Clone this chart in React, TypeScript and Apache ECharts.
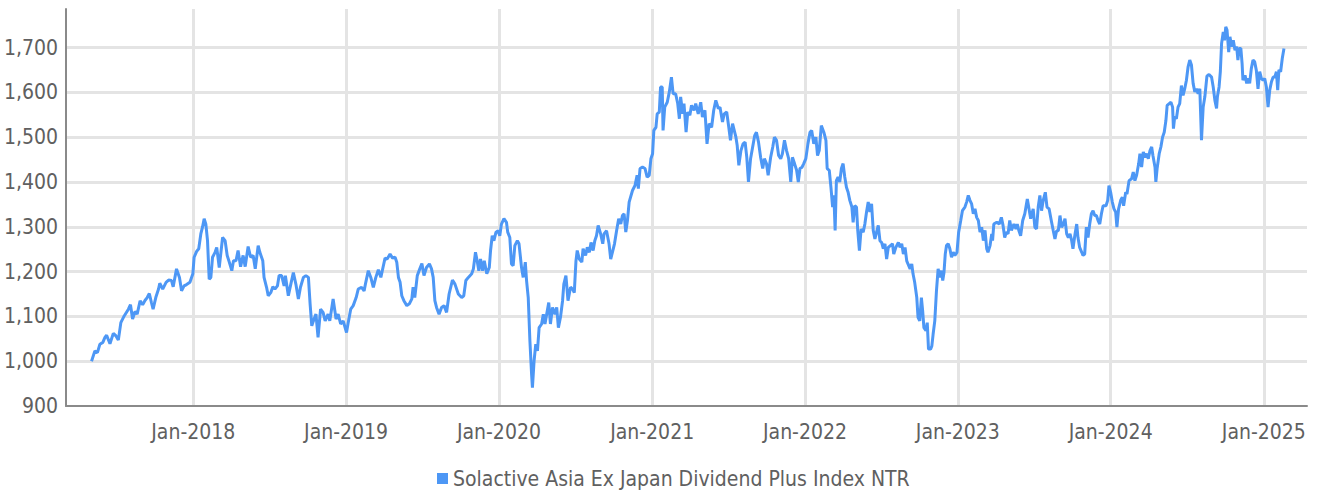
import React, { useEffect, useRef } from "react";
import * as echarts from "echarts";

const SERIES_NAME = "Solactive Asia Ex Japan Dividend Plus Index NTR";

// Dates are stored as day offsets from 1 Jan 2018.
const BASE_YEAR = 2018;
const X_START_DAY = -304; // early Mar 2017
const X_END_DAY = 2660; // mid Apr 2025

const Y_MIN = 900;
const Y_MAX = 1786;
const Y_STEP = 100;

const MONTHS = ["Jan", "Feb", "Mar", "Apr", "May", "Jun", "Jul", "Aug", "Sep", "Oct", "Nov", "Dec"];

const days2017 = [-243, -235, -229, -223, -216, -211, -207, -199, -191, -185, -179, -173, -165, -155, -150, -145, -139, -134, -127, -121, -115, -110, -105, -100, -96, -89, -83, -80, -73, -65, -59, -52, -48, -40, -33, -28, -22, -16, -8, -1];
const vals2017 = [1000, 1023, 1019, 1038, 1042, 1053, 1058, 1039, 1062, 1057, 1047, 1086, 1101, 1116, 1126, 1094, 1111, 1105, 1135, 1126, 1136, 1142, 1151, 1131, 1116, 1144, 1161, 1174, 1161, 1176, 1181, 1180, 1166, 1206, 1187, 1157, 1168, 1171, 1176, 1195];

const days2018 = [2, 8, 13, 18, 22, 26, 30, 34, 38, 42, 46, 52, 56, 62, 70, 76, 81, 86, 92, 96, 102, 107, 113, 119, 124, 131, 137, 143, 148, 155, 159, 166, 169, 175, 179, 185, 190, 195, 201, 205, 211, 217, 220, 227, 233, 239, 245, 251, 256, 263, 269, 275, 279, 283, 287, 293, 298, 304, 310, 315, 322, 326, 334, 341, 346, 352, 358];
const vals2018 = [1232, 1245, 1251, 1284, 1299, 1318, 1306, 1269, 1183, 1187, 1232, 1243, 1254, 1209, 1276, 1269, 1236, 1221, 1202, 1224, 1224, 1247, 1211, 1236, 1211, 1256, 1232, 1236, 1206, 1258, 1243, 1224, 1187, 1165, 1146, 1153, 1166, 1161, 1168, 1191, 1191, 1168, 1191, 1146, 1172, 1198, 1172, 1139, 1165, 1187, 1191, 1187, 1128, 1079, 1090, 1105, 1053, 1116, 1109, 1090, 1105, 1090, 1139, 1094, 1105, 1083, 1090];

const days2019 = [366, 370, 376, 382, 389, 394, 402, 408, 412, 418, 424, 430, 436, 442, 448, 454, 458, 463, 470, 476, 482, 486, 490, 494, 498, 503, 510, 516, 522, 525, 529, 535, 541, 546, 551, 557, 564, 569, 573, 577, 581, 587, 593, 599, 605, 611, 619, 625, 633, 641, 646, 651, 657, 665, 669, 674, 678, 682, 686, 691, 695, 701, 707, 710, 714, 718, 723];
const vals2019 = [1064, 1086, 1116, 1124, 1142, 1161, 1165, 1157, 1176, 1202, 1187, 1165, 1187, 1204, 1187, 1213, 1230, 1228, 1239, 1230, 1232, 1221, 1187, 1176, 1146, 1135, 1124, 1128, 1139, 1165, 1142, 1191, 1206, 1218, 1191, 1209, 1217, 1206, 1187, 1135, 1120, 1105, 1120, 1124, 1109, 1150, 1181, 1172, 1150, 1142, 1146, 1180, 1187, 1195, 1206, 1243, 1224, 1202, 1228, 1202, 1224, 1195, 1209, 1247, 1280, 1269, 1288];

const days2020 = [728, 732, 736, 742, 748, 751, 756, 760, 764, 768, 774, 778, 784, 788, 793, 796, 800, 804, 808, 810, 814, 818, 822, 826, 832, 836, 840, 844, 849, 853, 858, 864, 868, 872, 877, 882, 885, 890, 895, 901, 906, 910, 914, 917, 922, 928, 931, 937, 941, 946, 950, 955, 959, 963, 967, 973, 978, 981, 987, 993, 997, 1001, 1006, 1011, 1016, 1021, 1025, 1029, 1033, 1037, 1041, 1049, 1055, 1060, 1063, 1067, 1073, 1079, 1084, 1089];
const vals2020 = [1291, 1280, 1306, 1318, 1310, 1288, 1276, 1217, 1213, 1258, 1269, 1262, 1209, 1187, 1221, 1180, 1142, 1045, 971, 941, 1001, 1038, 1023, 1075, 1083, 1105, 1083, 1105, 1131, 1083, 1120, 1105, 1120, 1075, 1098, 1135, 1172, 1191, 1135, 1165, 1161, 1153, 1224, 1247, 1228, 1221, 1251, 1236, 1254, 1243, 1265, 1247, 1269, 1280, 1303, 1284, 1262, 1284, 1291, 1262, 1228, 1243, 1262, 1291, 1318, 1306, 1325, 1329, 1288, 1314, 1355, 1381, 1392, 1415, 1385, 1430, 1433, 1430, 1411, 1415];

const days2021 = [1093, 1097, 1100, 1105, 1108, 1113, 1116, 1120, 1122, 1126, 1132, 1137, 1142, 1146, 1152, 1157, 1161, 1164, 1169, 1172, 1177, 1181, 1186, 1190, 1196, 1200, 1206, 1212, 1216, 1222, 1227, 1232, 1238, 1243, 1248, 1254, 1258, 1264, 1268, 1274, 1279, 1283, 1288, 1292, 1296, 1299, 1303, 1308, 1313, 1318, 1322, 1326, 1331, 1336, 1341, 1345, 1350, 1355, 1360, 1364, 1369, 1373, 1379, 1384, 1388, 1393, 1398, 1403, 1407, 1412, 1417, 1422, 1427, 1431, 1436, 1441, 1445, 1449, 1454];
const vals2021 = [1452, 1463, 1515, 1522, 1552, 1556, 1612, 1612, 1515, 1567, 1578, 1601, 1634, 1597, 1597, 1575, 1541, 1590, 1552, 1575, 1511, 1556, 1549, 1571, 1560, 1575, 1552, 1578, 1545, 1560, 1485, 1530, 1522, 1560, 1582, 1564, 1567, 1534, 1552, 1556, 1522, 1493, 1530, 1515, 1500, 1482, 1437, 1470, 1485, 1489, 1455, 1400, 1452, 1478, 1504, 1511, 1489, 1455, 1430, 1452, 1441, 1415, 1455, 1478, 1500, 1493, 1459, 1452, 1463, 1493, 1470, 1452, 1400, 1455, 1441, 1426, 1400, 1430, 1433];

const days2022 = [1458, 1463, 1468, 1473, 1477, 1482, 1487, 1491, 1495, 1500, 1506, 1511, 1514, 1519, 1523, 1527, 1530, 1533, 1536, 1540, 1544, 1548, 1552, 1556, 1560, 1564, 1568, 1573, 1576, 1580, 1584, 1587, 1591, 1595, 1600, 1604, 1608, 1612, 1616, 1620, 1624, 1628, 1632, 1636, 1640, 1644, 1648, 1652, 1656, 1660, 1665, 1670, 1673, 1678, 1684, 1688, 1692, 1696, 1700, 1704, 1707, 1712, 1716, 1719, 1723, 1728, 1731, 1735, 1739, 1742, 1745, 1750, 1753, 1756, 1761, 1764, 1767, 1771, 1775, 1779, 1783, 1787, 1790, 1793, 1796, 1799, 1803, 1807, 1811, 1815, 1819, 1824];
const vals2022 = [1441, 1452, 1485, 1511, 1515, 1485, 1500, 1459, 1470, 1526, 1511, 1493, 1430, 1426, 1388, 1344, 1370, 1292, 1403, 1411, 1400, 1430, 1441, 1411, 1388, 1377, 1359, 1344, 1310, 1347, 1344, 1292, 1247, 1295, 1288, 1306, 1333, 1355, 1333, 1351, 1292, 1273, 1288, 1303, 1269, 1265, 1251, 1262, 1228, 1254, 1258, 1262, 1239, 1254, 1265, 1254, 1262, 1239, 1254, 1224, 1217, 1206, 1217, 1195, 1176, 1142, 1098, 1090, 1142, 1113, 1075, 1068, 1086, 1027, 1027, 1034, 1060, 1090, 1157, 1206, 1187, 1202, 1180, 1198, 1239, 1258, 1262, 1251, 1232, 1243, 1236, 1243];

const days2023 = [1828, 1833, 1837, 1843, 1847, 1851, 1855, 1859, 1863, 1867, 1871, 1875, 1879, 1883, 1887, 1891, 1895, 1898, 1903, 1907, 1909, 1912, 1919, 1925, 1930, 1934, 1938, 1942, 1946, 1950, 1954, 1960, 1965, 1968, 1972, 1976, 1981, 1986, 1992, 1996, 2000, 2006, 2010, 2014, 2018, 2022, 2026, 2030, 2035, 2039, 2044, 2050, 2054, 2058, 2062, 2066, 2070, 2074, 2078, 2082, 2086, 2090, 2094, 2098, 2101, 2106, 2110, 2113, 2117, 2122, 2125, 2129, 2133, 2137, 2141, 2145, 2149, 2153, 2157, 2161, 2165, 2169, 2173, 2180, 2184];
const vals2023 = [1288, 1314, 1336, 1344, 1355, 1370, 1359, 1351, 1329, 1340, 1321, 1314, 1288, 1299, 1269, 1292, 1251, 1243, 1258, 1284, 1269, 1306, 1310, 1306, 1321, 1303, 1276, 1288, 1284, 1314, 1292, 1306, 1295, 1306, 1291, 1280, 1314, 1329, 1362, 1340, 1318, 1340, 1299, 1295, 1344, 1370, 1336, 1359, 1377, 1344, 1340, 1310, 1291, 1273, 1291, 1291, 1325, 1299, 1306, 1318, 1284, 1276, 1284, 1269, 1251, 1284, 1306, 1276, 1254, 1243, 1236, 1239, 1299, 1276, 1306, 1329, 1336, 1325, 1325, 1314, 1306, 1329, 1347, 1347, 1359];

const days2024 = [2187, 2191, 2195, 2199, 2203, 2206, 2210, 2215, 2219, 2222, 2227, 2230, 2235, 2241, 2245, 2249, 2253, 2258, 2261, 2265, 2269, 2273, 2277, 2281, 2285, 2289, 2292, 2297, 2299, 2302, 2307, 2311, 2315, 2319, 2323, 2326, 2331, 2335, 2339, 2341, 2344, 2348, 2352, 2356, 2360, 2364, 2368, 2372, 2376, 2380, 2384, 2388, 2392, 2396, 2400, 2404, 2408, 2412, 2416, 2421, 2426, 2432, 2436, 2440, 2444, 2446, 2450, 2453, 2456, 2460, 2463, 2466, 2469, 2473, 2476, 2480, 2484, 2488, 2492, 2495, 2498, 2502, 2505, 2507, 2512, 2516, 2519, 2523, 2527, 2531, 2535, 2539, 2543, 2547, 2551, 2555];
const vals2024 = [1392, 1377, 1355, 1340, 1333, 1299, 1340, 1359, 1366, 1347, 1377, 1373, 1403, 1407, 1422, 1403, 1415, 1441, 1463, 1433, 1467, 1455, 1463, 1452, 1470, 1478, 1459, 1433, 1400, 1430, 1463, 1478, 1500, 1511, 1537, 1571, 1575, 1578, 1567, 1519, 1545, 1541, 1567, 1575, 1615, 1593, 1608, 1627, 1657, 1672, 1661, 1620, 1601, 1608, 1597, 1608, 1493, 1567, 1590, 1636, 1640, 1634, 1612, 1582, 1564, 1590, 1612, 1646, 1709, 1735, 1716, 1746, 1739, 1690, 1724, 1702, 1716, 1694, 1702, 1672, 1698, 1698, 1664, 1627, 1638, 1620, 1631, 1620, 1653, 1672, 1668, 1649, 1608, 1646, 1631, 1627];

const days2025 = [2559, 2563, 2567, 2571, 2575, 2579, 2583, 2587, 2590, 2593, 2597, 2601, 2605];
const vals2025 = [1631, 1612, 1567, 1605, 1623, 1634, 1634, 1646, 1605, 1650, 1646, 1676, 1698];

const dayOffsets = [...days2017, ...days2018, ...days2019, ...days2020, ...days2021, ...days2022, ...days2023, ...days2024, ...days2025];
const indexValues = [...vals2017, ...vals2018, ...vals2019, ...vals2020, ...vals2021, ...vals2022, ...vals2023, ...vals2024, ...vals2025];

const FONT = "'DejaVu Sans Condensed', 'DejaVu Sans', sans-serif";
const FONT_SIZE = 21;
const TEXT_COLOR = "#606060";
const LINE_COLOR = "#4d97f5";
const GRID_COLOR = "#e4e4e4";
const AXIS_COLOR = "#8a8a8a";

const DAY_MS = 86400000;
const baseTime = new Date(BASE_YEAR, 0, 1).getTime();
const toTime = (d: number) => baseTime + d * DAY_MS;

export default function App() {
  const ref = useRef<HTMLDivElement>(null);

  useEffect(() => {
    document.body.style.margin = "0";
    if (!ref.current) return;
    const chart = echarts.init(ref.current, null, { renderer: "svg" });
    const data = dayOffsets.map((d, i) => [toTime(d), indexValues[i]]);

    chart.setOption({
      animation: false,
      backgroundColor: "#ffffff",
      textStyle: { fontFamily: FONT },
      grid: {
        left: 66,
        right: 10,
        top: 9,
        bottom: 87,
        containLabel: false,
        outerBoundsMode: "none",
      },
      legend: {
        data: [SERIES_NAME],
        left: 432,
        top: 463,
        padding: 5,
        icon: "rect",
        itemWidth: 11,
        itemHeight: 11,
        itemGap: 6,
        textStyle: { fontSize: FONT_SIZE, color: TEXT_COLOR, fontFamily: FONT },
      },
      xAxis: {
        type: "time",
        min: toTime(X_START_DAY),
        max: toTime(X_END_DAY),
        minInterval: 365 * DAY_MS,
        maxInterval: 366 * DAY_MS,
        axisLine: { show: true, lineStyle: { color: AXIS_COLOR, width: 2 } },
        axisTick: { show: false },
        splitLine: {
          show: true,
          showMinLine: false,
          showMaxLine: false,
          lineStyle: { color: GRID_COLOR, width: 3 },
        },
        axisLabel: {
          color: TEXT_COLOR,
          fontSize: FONT_SIZE,
          fontFamily: FONT,
          margin: 15,
          hideOverlap: false,
          formatter: (val: number) => {
            const dt = new Date(val);
            if (dt.getMonth() !== 0 || dt.getDate() !== 1) return "";
            return `${MONTHS[dt.getMonth()]}-${dt.getFullYear()}`;
          },
        },
      },
      yAxis: {
        type: "value",
        min: Y_MIN,
        max: Y_MAX,
        interval: Y_STEP,
        axisLine: { show: true, lineStyle: { color: AXIS_COLOR, width: 2 } },
        axisTick: { show: false },
        splitLine: {
          show: true,
          showMinLine: false,
          showMaxLine: false,
          lineStyle: { color: GRID_COLOR, width: 3 },
        },
        axisLabel: {
          color: TEXT_COLOR,
          fontSize: FONT_SIZE,
          fontFamily: FONT,
          margin: 8,
          showMaxLabel: false,
          formatter: (v: number) => (v % Y_STEP === 0 ? v.toLocaleString("en-US") : ""),
        },
      },
      series: [
        {
          name: SERIES_NAME,
          type: "line",
          data,
          showSymbol: false,
          symbol: "none",
          lineStyle: { color: LINE_COLOR, width: 3 },
          itemStyle: { color: LINE_COLOR },
        },
      ],
    });

    return () => chart.dispose();
  }, []);

  return <div ref={ref} style={{ width: 1317, height: 493 }} />;
}
